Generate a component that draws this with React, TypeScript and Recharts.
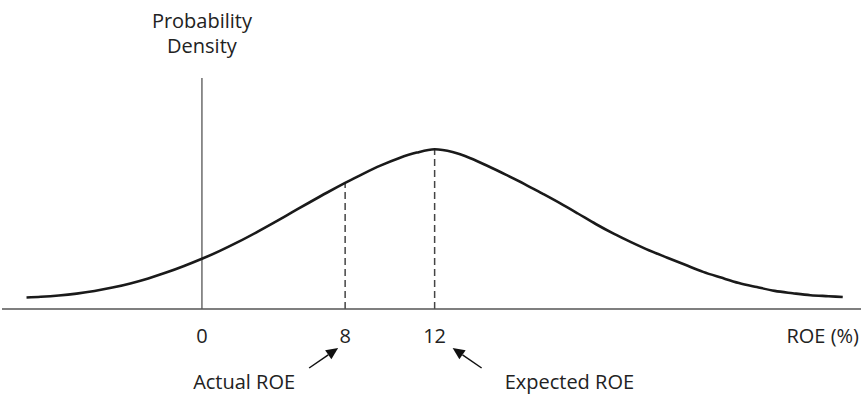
import { Line, LineChart, ReferenceLine, XAxis, YAxis } from 'recharts';

// Schematic diagram: x is a drawing position (0 = the density axis), the
// printed ROE labels sit at chosen positions and are not linear.
const POSITIONS = [
  -9.8, -9, -8, -7, -6, -5, -4, -3, -2, -1, 0, 1, 2, 3, 4, 5, 6, 7, 8, 9, 10, 11, 12, 13,
  14, 15, 16, 17, 18, 19, 20, 21, 22, 23, 24, 25, 26, 27, 28, 29, 30, 31, 32, 33, 34, 35, 35.8,
];
const DENSITY = [
  11.5, 12.2, 13.5, 15.4, 18.0, 21.4, 25.6, 30.6, 36.4, 43.0, 50.2, 58.1, 66.8, 76.2, 86.1,
  96.3, 106.5, 116.5, 126.1, 135.2, 143.6, 150.8, 156.4, 159.7,
  157.0, 150.8, 142.7, 134.1, 125.2, 115.6, 105.8, 95.5, 85.0, 75.3, 66.6, 58.5, 51.3, 44.2,
  37.1, 31.4, 26.0, 21.9, 18.1, 15.8, 13.8, 12.8, 12.0,
];
const TICK_POSITIONS = [0, 8, 13];
const TICK_LABELS = ['0', '8', '12'];
const ACTUAL_POS = 8;
const EXPECTED_POS = 13;
const ACTUAL_LABEL = 'Actual ROE';
const EXPECTED_LABEL = 'Expected ROE';
const X_TITLE = 'ROE (%)';
const Y_TITLE = ['Probability', 'Density'];

const data = POSITIONS.map((pos, i) => ({ pos, density: DENSITY[i] }));
const densityAt = (p: number) => DENSITY[POSITIONS.indexOf(p)];

const FONT = "'Open Sans', 'Noto Sans', sans-serif";
const TEXT = '#222';

function Arrow({ x1, y1, x2, y2 }: { x1: number; y1: number; x2: number; y2: number }) {
  const len = Math.hypot(x2 - x1, y2 - y1);
  const dx = (x2 - x1) / len;
  const dy = (y2 - y1) / len;
  const head = 12;
  const half = 5.5;
  const bx = x2 - dx * head;
  const by = y2 - dy * head;
  return (
    <g>
      <line x1={x1} y1={y1} x2={bx} y2={by} stroke="#111" strokeWidth={1.5} />
      <path
        d={`M${x2},${y2} L${bx - dy * half},${by + dx * half} L${bx + dy * half},${by - dx * half} Z`}
        fill="#111"
      />
    </g>
  );
}

function Tick(props: any) {
  const { x, y, payload } = props;
  const i = TICK_POSITIONS.indexOf(payload.value);
  return (
    <g fontFamily={FONT} fontSize={20} fill={TEXT}>
      <text x={x} y={y + 34} textAnchor="middle">
        {TICK_LABELS[i]}
      </text>
      {payload.value === ACTUAL_POS && (
        <>
          <Arrow x1={x - 36} y1={y + 59} x2={x - 7} y2={y + 39} />
          <text x={x - 50} y={y + 80} textAnchor="end">
            {ACTUAL_LABEL}
          </text>
        </>
      )}
      {payload.value === EXPECTED_POS && (
        <>
          <Arrow x1={x + 47} y1={y + 59} x2={x + 18} y2={y + 39} />
          <text x={x + 70} y={y + 80} textAnchor="start">
            {EXPECTED_LABEL}
          </text>
        </>
      )}
    </g>
  );
}

const renderXTitle = (props: any) => {
  const vb = props.viewBox ?? { x: 2, y: 309, width: 859, height: 87 };
  return (
    <text x={vb.x + vb.width - 2} y={vb.y + 34} textAnchor="end" fontFamily={FONT} fontSize={20} fill={TEXT}>
      {X_TITLE}
    </text>
  );
};

const renderYTitle = (props: any) => {
  const vb = props.viewBox ?? { x: 202, y: 78 };
  return (
    <text x={vb.x} y={vb.y - 50} textAnchor="middle" fontFamily={FONT} fontSize={20} fill={TEXT}>
      <tspan x={vb.x} dy={0}>{Y_TITLE[0]}</tspan>
      <tspan x={vb.x} dy={25}>{Y_TITLE[1]}</tspan>
    </text>
  );
};

export default function App() {
  return (
    <div style={{ position: 'absolute', left: 0, top: 0, background: '#fff' }}>
      <LineChart width={861} height={396} data={data} margin={{ top: 78, right: 0, bottom: 0, left: 2 }}>
        <XAxis
          type="number"
          dataKey="pos"
          domain={[-11.17, 36.82]}
          allowDataOverflow
          ticks={TICK_POSITIONS}
          interval={0}
          tickLine={false}
          tickSize={0}
          tickMargin={0}
          tick={<Tick />}
          height={87}
          stroke="#555"
          strokeWidth={1.4}
          label={renderXTitle}
        />
        <YAxis hide domain={[0, 231]} />
        <ReferenceLine x={0} stroke="#555" strokeWidth={1.3} label={renderYTitle} />
        <ReferenceLine
          segment={[{ x: ACTUAL_POS, y: 0 }, { x: ACTUAL_POS, y: densityAt(ACTUAL_POS) }]}
          stroke="#444"
          strokeWidth={1.5}
          strokeDasharray="7 4"
        />
        <ReferenceLine
          segment={[{ x: EXPECTED_POS, y: 0 }, { x: EXPECTED_POS, y: densityAt(EXPECTED_POS) }]}
          stroke="#444"
          strokeWidth={1.5}
          strokeDasharray="7 4"
        />
        <Line
          type="monotone"
          dataKey="density"
          stroke="#1a1a1a"
          strokeWidth={2.6}
          dot={false}
          isAnimationActive={false}
        />
      </LineChart>
    </div>
  );
}
